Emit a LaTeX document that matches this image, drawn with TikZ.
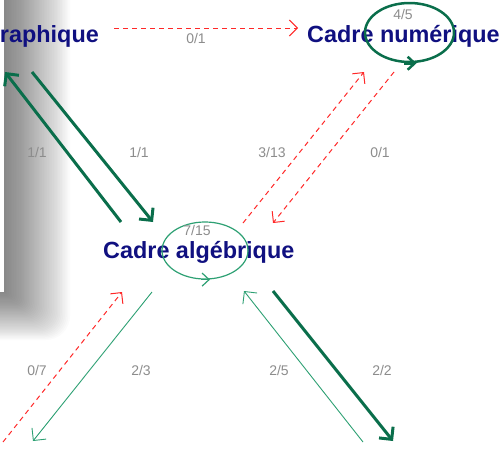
\documentclass[tikz,border=0pt]{standalone}
\usepackage{fontspec}
\setmainfont{Liberation Sans}
\usetikzlibrary{arrows.meta,shapes.geometric}
\definecolor{navy}{RGB}{16,16,128}
\definecolor{dkgreen}{RGB}{10,110,75}
\definecolor{ltgreen}{RGB}{45,160,115}
\definecolor{lblgray}{RGB}{140,140,140}
\definecolor{dashred}{RGB}{255,40,40}
\begin{document}
\begin{tikzpicture}[x=1pt,y=-1pt,
 frame/.style={font=\fontsize{23.4}{25}\selectfont\bfseries, text=navy, inner sep=0pt},
 lbl/.style={font=\fontsize{14}{15}\selectfont, text=lblgray, inner sep=0pt},
 strong/.style={draw=dkgreen, line width=3pt, -{Straight Barb[length=9pt,width=18pt]}},
 weak/.style={draw=ltgreen, line width=0.9pt, -{Straight Barb[length=9pt,width=18pt]}},
 fail/.style={draw=dashred, line width=1pt, dash pattern=on 5pt off 4pt, -{Straight Barb[length=8pt,width=16pt]}},
 loopstrong/.style={draw=dkgreen, line width=2.5pt, ellipse, inner sep=0pt, minimum width=89pt, minimum height=59pt},
 loopweak/.style={draw=ltgreen, line width=1.2pt, ellipse, inner sep=0pt, minimum width=86pt, minimum height=57pt},
]
\useasboundingbox (0,0) rectangle (500,448);
% window shadow
\begin{scope}
\clip (0,0) rectangle (500,448);
\foreach \i in {1,...,40} \fill[black, opacity=0.015, rounded corners={0.6pt*\i}] (-80,-80) rectangle ({4+66*\i/40},{292+48*\i/40});
\fill[white] (-20,-20) rectangle (4,292);
\end{scope}
% frames
\node[frame, anchor=base east] (graph) at (99,42) {raphique};
\node[frame, anchor=base west] (num) at (307,42) {Cadre numérique};
\node[frame, anchor=base west] (alg) at (103,258) {Cadre algébrique};
% loops
\node[loopstrong] (loopN) at (409.5,32.5) {};
\draw[dkgreen, line width=2.5pt, -{Straight Barb[length=7pt,width=13pt]}] ([xshift=-6pt]loopN.south) -- ([xshift=7pt]loopN.south);
\node[loopweak] (loopA) at (205,250.5) {};
\draw[ltgreen, line width=1.2pt, -{Straight Barb[length=7pt,width=13pt]}] ([xshift=-4pt]loopA.south) -- ([xshift=5pt]loopA.south);
% endpoints
\coordinate (gn1) at (114,28);  \coordinate (gn2) at (298,28);
\coordinate (ag1) at (121,222); \coordinate (ag2) at (5,72);
\coordinate (ga1) at (32,72);   \coordinate (ga2) at (153,222);
\coordinate (an1) at (243,223); \coordinate (an2) at (364,72);
\coordinate (na1) at (394,72);  \coordinate (na2) at (273,223);
\coordinate (xa1) at (3,442);   \coordinate (xa2) at (122,292);
\coordinate (ax1) at (152,292); \coordinate (ax2) at (33,441);
\coordinate (ya1) at (363,442); \coordinate (ya2) at (244,291);
\coordinate (ay1) at (273,291); \coordinate (ay2) at (393,441);
% connectors
\draw[fail] (gn1) -- (gn2);
\draw[strong] (ag1) -- (ag2);
\draw[strong] (ga1) -- (ga2);
\draw[fail] (an1) -- (an2);
\draw[fail] (na1) -- (na2);
\draw[fail] (xa1) -- (xa2);
\draw[weak] (ax1) -- (ax2);
\draw[weak] (ya1) -- (ya2);
\draw[strong] (ay1) -- (ay2);
% labels
\node[lbl] (lgn) at (196,38) {0/1};
\node[lbl] (lag) at (37,152) {1/1};
\node[lbl] (lga) at (139,152) {1/1};
\node[lbl] (lan) at (272,152) {3/13};
\node[lbl] (lna) at (380,152) {0/1};
\node[lbl] (lnn) at (403,14) {4/5};
\node[lbl] (laa) at (197,230.5) {7/15};
\node[lbl] (lxa) at (37,370) {0/7};
\node[lbl] (lax) at (141,370) {2/3};
\node[lbl] (lya) at (279,370) {2/5};
\node[lbl] (lay) at (382,370) {2/2};
\end{tikzpicture}
\end{document}
